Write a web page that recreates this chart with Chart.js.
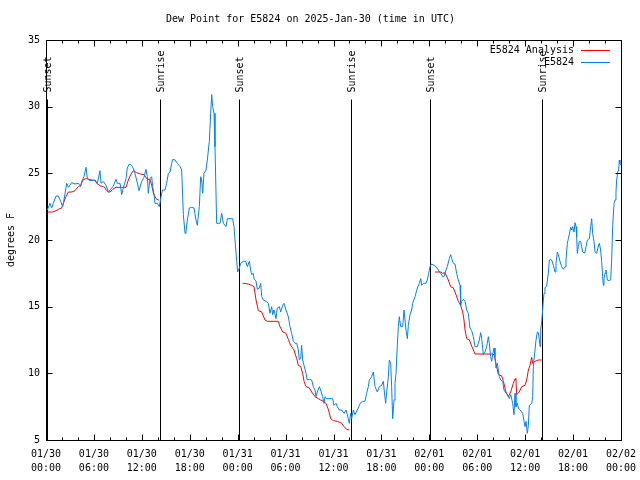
<!DOCTYPE html>
<html><head><meta charset="utf-8">
<script src="https://cdn.jsdelivr.net/npm/chart.js@4.4.1/dist/chart.umd.min.js"></script>
<style>html,body{margin:0;padding:0;background:#fff;}#wrap{width:640px;height:480px;}</style>
</head><body><div id="wrap"><canvas id="c" width="640" height="480"></canvas></div>
<script>
// ---- data (hours since 2025-01-30 00:00 UTC) ----
const obsHours = [0.17,0.50,0.71,0.92,1.25,1.54,1.84,2.09,2.25,2.59,2.80,3.21,3.63,4.05,4.34,4.47,4.76,5.01,5.18,5.51,6.14,6.43,6.76,6.89,7.18,7.51,7.81,8.10,8.43,8.77,8.93,9.27,9.48,9.68,10.02,10.18,10.43,10.73,11.02,11.35,11.65,11.98,12.27,12.52,12.69,12.81,
13.02,13.23,13.36,13.52,13.65,13.94,14.19,14.48,14.61,14.90,15.11,15.32,15.53,15.74,15.86,16.15,16.45,16.78,16.99,17.20,17.41,17.53,17.70,17.95,18.24,18.53,18.78,18.95,19.20,19.37,19.49,19.62,19.78,20.04,20.20,20.45,20.62,20.75,20.87,21.04,21.16,21.37,21.58,21.79,22.00,22.21,22.54,22.71,23.04,23.37,23.54,23.67,23.88,24.00,24.21,24.38,24.71,25.00,25.21,25.46,
25.63,25.75,25.96,26.05,26.30,26.46,26.71,26.88,27.01,27.21,27.55,27.84,28.05,28.26,28.38,28.55,28.80,28.97,29.22,29.38,29.64,29.80,30.05,30.34,30.55,30.76,30.97,31.18,31.39,31.60,31.72,31.89,32.01,32.14,32.31,32.56,32.72,32.97,33.27,33.47,33.68,33.81,33.98,34.23,34.39,34.64,34.81,34.94,35.14,35.56,35.90,36.06,36.31,36.48,36.73,37.02,37.32,37.57,37.73,37.98,38.15,38.28,38.48,38.69,38.98,39.23,
39.40,39.65,39.94,40.15,40.36,40.49,40.78,40.99,41.20,41.49,41.74,42.03,42.24,42.37,42.53,42.66,42.87,42.99,43.16,43.28,43.41,43.58,43.70,43.83,43.99,44.12,44.24,44.41,44.66,44.83,45.08,45.25,45.37,45.58,45.79,45.91,46.21,46.50,46.75,46.92,47.04,47.25,47.58,47.75,47.92,48.08,48.29,48.59,48.84,49.13,
49.42,49.67,49.84,50.09,50.25,50.50,50.67,50.80,51.01,51.21,51.42,51.63,51.84,51.92,52.05,52.26,52.47,52.68,52.88,53.09,53.30,53.51,53.72,54.01,54.26,54.43,54.56,54.76,54.97,55.18,55.39,55.51,55.68,55.81,55.93,56.10,56.22,56.35,56.52,56.64,56.77,56.93,57.18,57.35,57.60,57.77,58.02,58.19,58.44,58.60,58.73,58.85,59.02,59.15,59.36,59.69,59.86,59.98,60.11,60.27,60.40,
60.52,60.82,60.94,61.02,61.23,61.36,61.53,61.65,61.78,61.86,61.94,62.07,62.19,62.28,62.36,62.48,62.69,62.90,63.03,63.19,63.32,63.53,63.74,63.86,64.03,64.15,64.36,64.57,64.78,64.99,65.11,65.28,65.41,65.53,65.70,65.83,65.95,66.12,66.24,66.37,66.45,66.53,66.66,66.78,66.95,67.07,67.20,67.37,67.49,67.62,67.79,68.04,68.20,68.33,68.45,68.62,68.75,68.95,69.16,69.29,69.45,69.58,69.70,69.79,69.87,70.00,70.12,70.21,70.29,70.54,70.71,70.83,70.96,71.13,71.25,71.37,71.46,71.58,71.71,71.79,71.87,72.00];
const obsDewF = [22.25,22.75,22.4,22.75,23.3,23.3,22.9,22.5,23.0,24.25,23.95,24.3,24.2,24.25,24.0,24.4,24.75,25.45,24.6,24.45,24.5,24.25,25.2,24.25,24.4,24.1,23.6,23.8,24.05,24.55,24.25,24.25,23.4,23.9,24.6,25.4,25.7,25.6,25.25,24.5,23.7,24.4,24.7,25.3,24.75,23.5,
24.6,24.75,24.0,23.4,22.75,22.75,22.5,23.5,23.75,23.75,24.25,25.0,25.1,25.75,26.05,26.0,25.75,25.5,25.25,21.9,20.5,20.6,21.5,22.4,22.45,22.4,21.5,21.1,22.5,24.75,24.5,23.5,25.0,25.25,26.0,27.4,29.5,30.9,30.0,29.5,27.0,21.25,21.25,21.25,22.0,21.25,21.0,21.6,21.6,21.6,21.0,20.0,18.4,17.6,17.9,18.25,18.4,18.4,18.0,18.4,
17.75,17.4,17.5,17.1,16.9,16.3,16.4,16.75,15.75,15.5,15.4,15.25,14.5,15.0,14.4,14.75,14.1,14.9,15.0,14.6,15.1,15.25,14.75,14.25,13.5,13.0,12.4,12.25,12.25,11.75,11.0,11.1,12.1,11.0,10.6,10.0,9.5,9.55,9.5,9.0,8.75,8.25,8.6,9.0,8.75,8.25,7.75,8.25,8.1,8.1,8.1,7.6,7.75,7.5,7.25,7.25,7.0,7.25,6.9,6.25,7.0,6.6,7.25,6.9,7.25,7.6,
7.8,7.9,7.9,8.5,9.0,9.5,9.75,10.1,9.0,8.6,9.0,9.1,9.4,8.6,7.75,8.6,9.75,11.0,10.75,9.0,6.6,8.0,9.25,10.0,12.1,13.5,14.25,13.5,13.5,14.75,13.25,12.6,13.6,14.4,14.75,15.25,15.75,16.4,16.75,17.1,16.6,16.75,16.75,17.0,17.5,18.0,18.2,18.1,18.0,17.75,
17.5,17.25,17.25,17.75,18.0,18.6,18.9,18.6,18.25,18.2,17.5,17.0,16.6,15.1,15.4,15.55,15.4,14.75,14.5,13.4,13.2,12.75,12.0,12.0,12.5,13.05,12.6,11.4,11.6,12.0,12.75,12.25,11.25,10.9,11.4,11.9,11.25,10.4,10.75,10.25,9.75,9.5,9.4,8.75,8.5,8.4,8.1,8.4,7.75,6.9,8.5,7.5,7.75,7.4,7.25,7.0,6.4,6.0,6.4,5.5,6.1,
7.6,7.75,8.25,10.5,11.75,12.5,13.1,13.05,12.5,12.0,13.25,13.9,14.75,15.5,16.0,16.4,16.55,17.5,18.5,18.55,18.5,18.1,17.6,18.25,19.1,18.9,18.4,18.0,17.8,18.0,18.5,19.75,20.1,20.45,20.95,20.75,21.0,20.6,21.3,21.0,20.25,19.0,19.5,19.9,19.9,19.5,19.1,19.05,19.1,19.5,20.0,20.1,21.0,21.6,20.5,19.9,19.1,19.0,19.55,19.75,19.25,18.4,17.25,16.6,17.1,17.5,17.75,17.4,17.0,16.95,17.0,18.5,21.1,22.75,23.0,23.6,24.5,25.1,25.25,26.0,25.75,25.6];

const anaHours = [0.25,0.83,1.25,1.54,1.96,2.17,2.50,2.80,3.21,3.63,4.05,4.34,4.67,5.09,5.72,6.14,6.43,6.85,7.18,7.39,7.60,7.81,8.01,8.35,8.77,9.48,10.02,10.31,10.60,10.94,11.35,11.85,12.27,12.69,13.02,13.23,13.44,13.77,14.07,14.19,
19.0,
24.63,25.33,25.75,26.05,26.30,26.59,27.01,27.42,27.72,29.09,29.30,29.64,30.05,30.34,30.64,31.05,31.39,31.60,31.89,32.14,32.31,32.56,32.97,33.27,33.68,34.10,34.39,34.73,35.06,35.35,35.65,35.98,36.48,37.02,37.32,37.65,37.98,
43.0,
48.71,49.42,49.67,49.96,50.38,50.67,51.01,51.34,51.63,51.92,52.18,52.34,52.47,52.68,53.01,53.30,53.51,53.72,55.81,56.10,56.35,56.52,56.64,57.06,57.27,57.60,57.89,58.19,58.52,58.73,58.85,58.94,59.27,59.56,59.98,60.19,60.40,60.61,60.82,60.94,61.23,61.65,62.07];
const anaDewF = [22.1,22.1,22.2,22.3,22.4,22.75,23.25,23.6,23.6,23.7,24.0,24.1,24.55,24.6,24.5,24.45,24.2,24.05,24.0,23.9,23.7,23.6,23.6,23.8,23.95,23.95,23.95,24.5,24.9,25.2,25.05,24.95,24.9,24.55,24.55,24.1,23.55,23.1,23.0,23.0,
null,
16.75,16.7,16.6,16.5,15.5,14.7,14.6,14.0,13.9,13.9,13.5,13.1,13.0,12.55,12.1,11.75,11.1,10.6,10.5,10.0,9.4,9.0,8.9,8.6,8.25,8.1,8.0,7.9,7.75,7.3,6.6,6.45,6.4,6.25,6.0,5.8,5.75,
null,
17.6,17.6,17.5,17.55,17.0,16.5,16.4,15.9,15.4,15.1,14.6,14.0,13.25,12.6,12.5,12.05,11.75,11.45,11.45,11.4,10.75,10.25,9.9,9.8,9.4,8.6,8.25,8.6,9.25,9.6,9.55,8.4,8.6,9.0,9.1,9.5,10.25,10.6,11.2,10.75,10.9,11.0,11.0];

const xTickHours = [0,6,12,18,24,30,36,42,48,54,60,66,72];
const xTickLabels = [['01/30','00:00'],['01/30','06:00'],['01/30','12:00'],['01/30','18:00'],
  ['01/31','00:00'],['01/31','06:00'],['01/31','12:00'],['01/31','18:00'],
  ['02/01','00:00'],['02/01','06:00'],['02/01','12:00'],['02/01','18:00'],['02/02','00:00']];
const xMinorHours = [2,4,8,10,14,16,20,22,26,28,32,34,38,40,44,46,50,52,56,58,62,64,68,70];
const yTicks = [5,10,15,20,25,30,35];
const eventHours = [0.17,14.27,24.2,38.15,48.1,62.07];
const eventNames = ['Sunset','Sunrise','Sunset','Sunrise','Sunset','Sunrise'];

// ---- styles ----
const MONO = '"DejaVu Sans Mono", monospace';
const RED = '#ff0000';
const BLUE = '#0080ff';
const EVENT_TOP = 30.57;

const overlay = {
  id: 'overlay',
  beforeDatasetsDraw(chart) {
    const {ctx, chartArea: a, scales: {x, y}} = chart;
    ctx.save();
    ctx.strokeStyle = '#000';
    ctx.lineWidth = 1;
    const yt = Math.round(y.getPixelForValue(EVENT_TOP)) + 0.5;
    eventHours.forEach((h, i) => {
      const px = Math.round(x.getPixelForValue(h)) + 0.5;
      ctx.beginPath(); ctx.moveTo(px, a.bottom); ctx.lineTo(px, yt); ctx.stroke();
      ctx.save();
      ctx.translate(px + 1, yt - 7);
      ctx.rotate(-Math.PI / 2);
      ctx.fillStyle = '#000';
      ctx.font = '10px ' + MONO;
      ctx.textAlign = 'left';
      ctx.textBaseline = 'middle';
      ctx.fillText(eventNames[i], 0, 0);
      ctx.restore();
    });
    ctx.restore();
  },
  afterDatasetsDraw(chart) {
    const {ctx, chartArea: a, scales: {x, y}} = chart;
    ctx.save();
    ctx.strokeStyle = '#000';
    ctx.lineWidth = 1;
    const L = Math.round(a.left) + 0.5, R = Math.round(a.right) + 0.5;
    const T = Math.round(a.top) + 0.5, B = Math.round(a.bottom) + 0.5;
    ctx.strokeRect(L, T, R - L, B - T);
    const tick = (px, len) => {
      ctx.beginPath();
      ctx.moveTo(px, B); ctx.lineTo(px, B - len);
      ctx.moveTo(px, T); ctx.lineTo(px, T + len);
      ctx.stroke();
    };
    xTickHours.forEach(h => tick(Math.round(x.getPixelForValue(h)) + 0.5, 6));
    xMinorHours.forEach(h => tick(Math.round(x.getPixelForValue(h)) + 0.5, 3));
    yTicks.forEach(v => {
      const py = Math.round(y.getPixelForValue(v)) + 0.5;
      ctx.beginPath();
      ctx.moveTo(L, py); ctx.lineTo(L + 6, py);
      ctx.moveTo(R, py); ctx.lineTo(R - 6, py);
      ctx.stroke();
    });
    // legend
    ctx.font = '10px ' + MONO;
    ctx.textAlign = 'right';
    ctx.textBaseline = 'middle';
    chart.data.datasets.forEach((ds, i) => {
      const ly = Math.round(a.top) + 10 + i * 12;
      ctx.fillStyle = '#000';
      ctx.fillText(ds.label, a.right - 47, ly);
      ctx.strokeStyle = ds.borderColor;
      ctx.beginPath(); ctx.moveTo(a.right - 40, ly + 0.5); ctx.lineTo(a.right - 11, ly + 0.5); ctx.stroke();
    });
    ctx.restore();
  }
};

new Chart(document.getElementById('c'), {
  type: 'line',
  data: {
    datasets: [
      {label: 'E5824 Analysis', data: anaHours.map((h, i) => ({x: h, y: anaDewF[i]})),
       borderColor: RED, borderWidth: 1, pointRadius: 0, spanGaps: false, tension: 0, order: 1},
      {label: 'E5824', data: obsHours.map((h, i) => ({x: h, y: obsDewF[i]})),
       borderColor: BLUE, borderWidth: 1, pointRadius: 0, tension: 0, order: 0}
    ]
  },
  options: {
    responsive: false,
    animation: false,
    layout: {padding: {left: 0, right: 19, top: 0, bottom: 0}},
    plugins: {
      legend: {display: false},
      tooltip: {enabled: false},
      title: {display: true, text: 'Dew Point for E5824 on 2025-Jan-30 (time in UTC)', color: '#000',
        font: {family: MONO, size: 10, weight: 'normal', lineHeight: 1.2}, padding: {top: 13, bottom: 15}}
    },
    scales: {
      x: {
        type: 'linear', min: 0, max: 72,
        afterBuildTicks: s => { s.ticks = xTickHours.map(v => ({value: v})); },
        ticks: {autoSkip: false, maxRotation: 0, color: '#000', padding: 7,
          font: {family: MONO, size: 10, lineHeight: 1.4},
          callback: (v, i) => xTickLabels[i]},
        grid: {display: false, drawTicks: false, tickLength: 0},
        border: {display: false},
        afterFit: s => { s.height = 40; s.paddingLeft = 0; s.paddingRight = 0; }
      },
      y: {
        min: 5, max: 35,
        afterBuildTicks: s => { s.ticks = yTicks.map(v => ({value: v})); },
        ticks: {color: '#000', padding: 6, font: {family: MONO, size: 10}},
        grid: {display: false, drawTicks: false, tickLength: 0},
        border: {display: false},
        title: {display: true, text: 'degrees F', color: '#000', font: {family: MONO, size: 10}, padding: {top: 5, bottom: 0}},
        afterFit: s => { s.width = 46; s.paddingTop = 0; s.paddingBottom = 0; }
      }
    }
  },
  plugins: [overlay]
});
</script>
</body></html>
